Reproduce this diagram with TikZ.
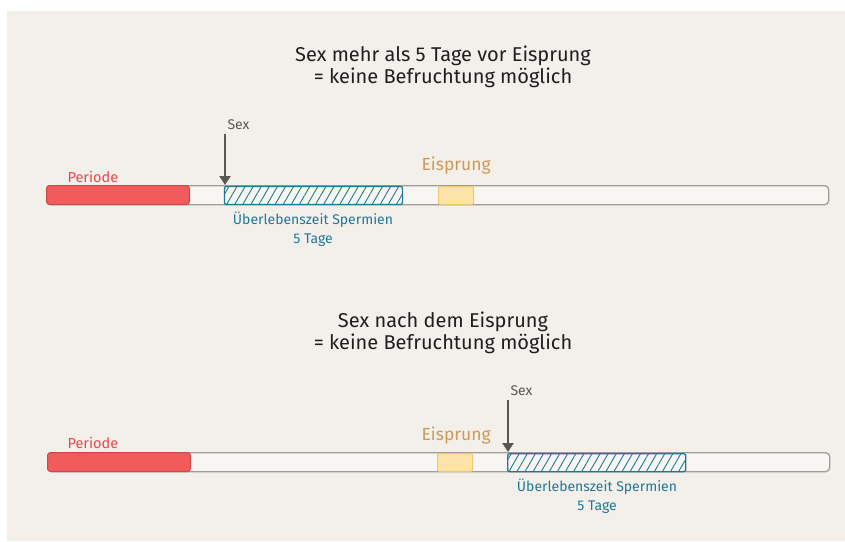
\documentclass[tikz,border=0pt]{standalone}
\usepackage{fontspec}
\setmainfont{Fira Sans}
\usetikzlibrary{arrows.meta,patterns.meta}
\definecolor{bg}{HTML}{F3F0EB}
\definecolor{barfill}{HTML}{F8F6F2}
\definecolor{bardraw}{HTML}{A09C98}
\definecolor{redfill}{HTML}{F25B5C}
\definecolor{reddraw}{HTML}{C94848}
\definecolor{redtext}{HTML}{E8474B}
\definecolor{teal}{HTML}{1F7896}
\definecolor{yelfill}{HTML}{FEE3A6}
\definecolor{yeldraw}{HTML}{F3C66E}
\definecolor{orangetext}{HTML}{CF9A55}
\definecolor{darkgray}{HTML}{5A5754}
\tikzset{
  barbox/.style={draw=bardraw, fill=barfill, line width=1.3pt, rounded corners=4pt, minimum width=782pt, minimum height=19pt, anchor=north west, inner sep=0pt},
  perbox/.style={draw=reddraw, fill=redfill, line width=1pt, rounded corners=3pt, minimum width=143pt, minimum height=19pt, anchor=north west, inner sep=0pt},
  eibox/.style={draw=yeldraw, fill=yelfill, line width=1pt, rounded corners=2pt, minimum width=35pt, minimum height=18pt, anchor=north west, inner sep=0pt},
  hatchbox/.style={draw=teal, line width=1.3pt, rounded corners=2pt, minimum width=178pt, minimum height=18pt, anchor=north west, inner sep=0pt,
     pattern={Lines[angle=60,distance=7pt,line width=0.9pt]}, pattern color=teal},
  title/.style={font=\fontsize{20}{22}\selectfont, text=black!88, align=center},
  perlabel/.style={font=\fontsize{14.5}{16}\selectfont, text=redtext, anchor=base west},
  eilabel/.style={font=\fontsize{17.5}{19}\selectfont, text=orangetext, anchor=base west},
  sexlabel/.style={font=\fontsize{14}{16}\selectfont, text=darkgray, anchor=base west},
  spermlabel/.style={font=\fontsize{14}{19}\selectfont, text=teal, align=center, anchor=north},
  sexarrow/.style={draw=darkgray, line width=2.4pt, -{Triangle[length=9pt,width=11pt]}, shorten >=1pt}
}
\begin{document}
\begin{tikzpicture}[x=1pt,y=-1pt]
\useasboundingbox (0,0) rectangle (845,541);
\fill[white] (0,0) rectangle (845,541);
\fill[bg] (7,11) rectangle (845,541);

% ---- top ----
\node[title] (title1) at (443,67) {Sex mehr als 5 Tage vor Eisprung\\= keine Befruchtung möglich};
\node[barbox] (bar1) at (46,185) {};
\node[perbox] (per1) at (46,185) {};
\node[perlabel] (perl1) at (64,182) {Periode};
\node[eibox] (ei1) at (438,186) {};
\node[eilabel] (eil1) at (418,170) {Eisprung};
\node[hatchbox] (sp1) at (224,186) {};
\node[spermlabel] (spl1) at (313,208) {Überlebenszeit Spermien\\5 Tage};
\node[sexlabel] (sexl1) at (224,129) {Sex};
\coordinate (s1top) at (225,134);
\draw[sexarrow] (s1top) -- (sp1.north west -| s1top);

% ---- bottom ----
\node[title] (title2) at (443,333) {Sex nach dem Eisprung\\= keine Befruchtung möglich};
\node[barbox] (bar2) at (47,452) {};
\node[perbox] (per2) at (47,452) {};
\node[perlabel] (perl2) at (64,448) {Periode};
\node[eibox] (ei2) at (437,453) {};
\node[eilabel] (eil2) at (418,440) {Eisprung};
\node[hatchbox] (sp2) at (507,453) {};
\node[spermlabel] (spl2) at (597,475) {Überlebenszeit Spermien\\5 Tage};
\node[sexlabel] (sexl2) at (507,395) {Sex};
\coordinate (s2top) at (508,400);
\draw[sexarrow] (s2top) -- (sp2.north west -| s2top);
\end{tikzpicture}
\end{document}
